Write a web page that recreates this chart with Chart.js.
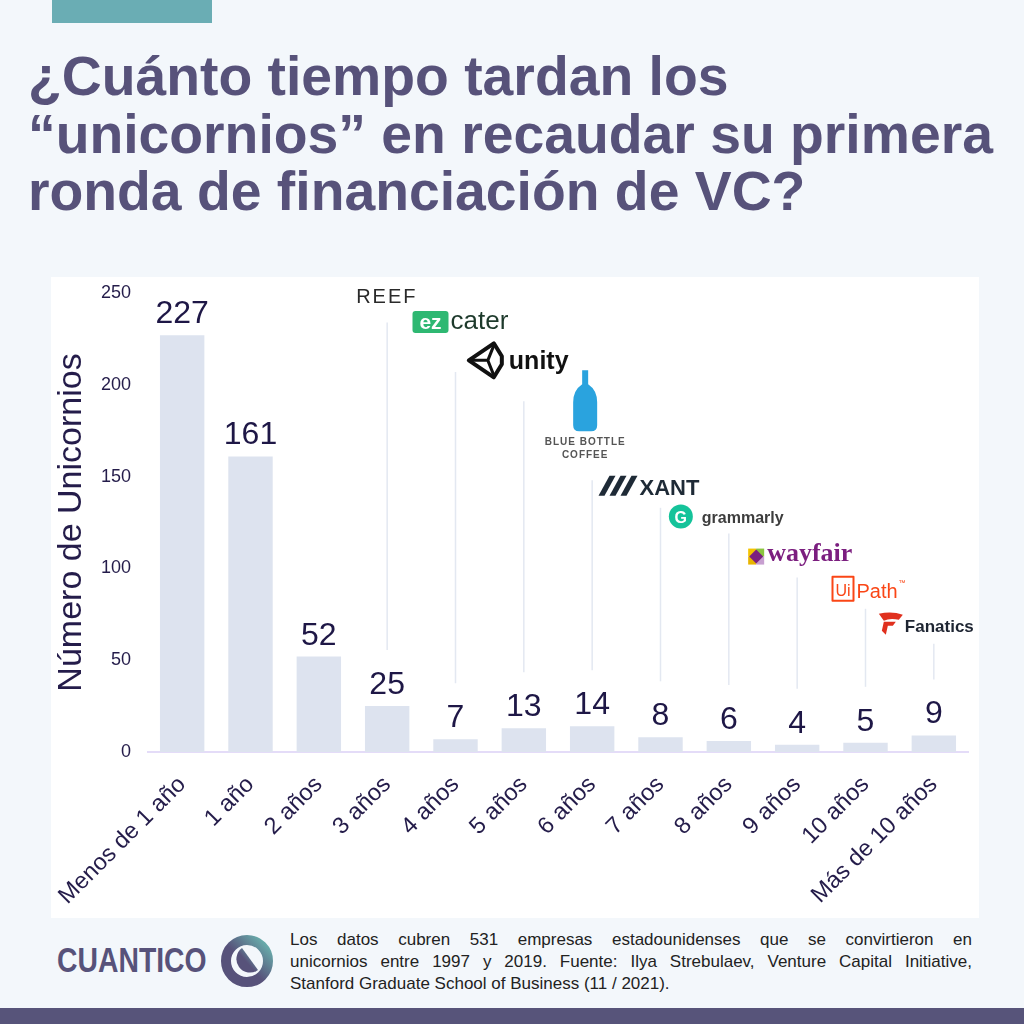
<!DOCTYPE html>
<html lang="es">
<head>
<meta charset="utf-8">
<script src="https://cdn.jsdelivr.net/npm/chart.js@4.4.1/dist/chart.umd.min.js"></script>
<style>
  html, body { margin: 0; padding: 0; }
  body { width: 1024px; height: 1024px; background: #f3f7fb; position: relative; overflow: hidden; font-family: 'Liberation Sans', Arial, sans-serif; }
  .franja { position: absolute; left: 52px; top: 0; width: 160px; height: 23px; background: #6aadb4; }
  h1 { position: absolute; left: 28px; top: 48px; margin: 0; font-size: 55.3px; line-height: 57.5px; font-weight: bold; color: #57527a; white-space: nowrap; }
  .panel { position: absolute; left: 51px; top: 277px; width: 928px; height: 641px; background: #fff; }
  .marca { position: absolute; left: 57px; top: 940px; font-weight: bold; font-size: 35px; line-height: 40px; color: #57527a; transform: scaleX(0.81); transform-origin: left top; }
  .icono { position: absolute; left: 220px; top: 934px; }
  .nota { position: absolute; left: 290px; top: 929px; width: 682px; font-size: 17px; line-height: 22px; color: #222; }
  .nota div { text-align: justify; text-align-last: justify; }
  .nota div.ultima { text-align: left; text-align-last: left; }
  .barra { position: absolute; left: 0; top: 1008px; width: 1024px; height: 16px; background: #57547a; }
</style>
</head>
<body>
<div class="franja"></div>
<h1>¿Cuánto tiempo tardan los<br>“unicornios” en recaudar su primera<br>ronda de financiación de VC?</h1>
<div class="panel"><canvas id="grafico" width="928" height="641"></canvas></div>
<div class="marca">CUANTICO</div>
<svg class="icono" width="54" height="54" viewBox="0 0 54 54">
  <defs>
    <linearGradient id="g1" x1="0" y1="1" x2="1" y2="0">
      <stop offset="0.45" stop-color="#57527a"/>
      <stop offset="1" stop-color="#6ab8b1"/>
    </linearGradient>
  </defs>
  <circle cx="27" cy="27" r="21" fill="none" stroke="url(#g1)" stroke-width="10"/>
  <path d="M22 14 L38 36 A13 13 0 0 1 22 14 Z" fill="url(#g1)"/>
</svg>
<div class="nota">
  <div>Los datos cubren 531 empresas estadounidenses que se convirtieron en</div>
  <div>unicornios entre 1997 y 2019. Fuente: Ilya Strebulaev, Venture Capital Initiative,</div>
  <div class="ultima">Stanford Graduate School of Business (11 / 2021).</div>
</div>
<div class="barra"></div>

<script>
const categorias = ['Menos de 1 año', '1 año', '2 años', '3 años', '4 años', '5 años', '6 años', '7 años', '8 años', '9 años', '10 años', 'Más de 10 años'];
const unicornios = [227, 161, 52, 25, 7, 13, 14, 8, 6, 4, 5, 9];
const ticksY = [0, 50, 100, 150, 200, 250];
const empresas = ['REEF', 'ezcater', 'unity', 'Blue Bottle Coffee', 'XANT', 'grammarly', 'wayfair', 'UiPath', 'Fanatics'];

// posición de cada logo (categoría y altura en unidades del eje)
const logos = [
    { cat: 3, nivel: 234 }, { cat: 4, nivel: 207 }, { cat: 5, nivel: 191 },
    { cat: 6, nivel: 148 }, { cat: 7, nivel: 133 }, { cat: 8, nivel: 119 },
    { cat: 9, nivel: 95 }, { cat: 10, nivel: 78 }, { cat: 11, nivel: 59 }
];

const oscuro = '#241c4a';
const fuente = "'Liberation Sans', Arial, sans-serif";
Chart.defaults.font.family = fuente;

function texto(ctx, t, x, y, font, color, align) {
    ctx.font = font;
    ctx.fillStyle = color;
    ctx.textAlign = align || 'left';
    ctx.textBaseline = 'alphabetic';
    ctx.fillText(t, x, y);
}

const dibujos = {
    'REEF': (ctx, x, y) => {
        ctx.letterSpacing = '2px';
        texto(ctx, 'REEF', x - 31, y - 19, '20px ' + fuente, '#2a2a2a');
        ctx.letterSpacing = '0px';
    },
    'ezcater': (ctx, x, y) => {
        ctx.fillStyle = '#2eb872';
        ctx.beginPath();
        ctx.roundRect(x - 43, y - 61, 36, 22, 3);
        ctx.fill();
        texto(ctx, 'ez', x - 25, y - 43, 'bold 21px ' + fuente, '#fff', 'center');
        texto(ctx, 'cater', x - 5, y - 43, '26px ' + fuente, '#1e3a2c');
    },
    'unity': (ctx, x, y) => {
        let cx = x - 38, cy = y - 41;
        ctx.strokeStyle = '#111';
        ctx.lineJoin = 'round';
        ctx.lineWidth = 4;
        ctx.beginPath();
        ctx.moveTo(cx - 17, cy);
        ctx.lineTo(cx + 8, cy - 17);
        ctx.lineTo(cx + 16, cy - 4);
        ctx.lineTo(cx + 16, cy + 4);
        ctx.lineTo(cx + 8, cy + 17);
        ctx.closePath();
        ctx.stroke();
        ctx.lineWidth = 3;
        ctx.beginPath();
        ctx.moveTo(cx - 17, cy); ctx.lineTo(cx + 2, cy);
        ctx.moveTo(cx + 2, cy); ctx.lineTo(cx + 8, cy - 15);
        ctx.moveTo(cx + 2, cy); ctx.lineTo(cx + 8, cy + 15);
        ctx.stroke();
        texto(ctx, 'unity', x - 15, y - 32, 'bold 25px ' + fuente, '#111');
    },
    'Blue Bottle Coffee': (ctx, x, y) => {
        let cx = x - 7, top = y - 110;
        ctx.fillStyle = '#2aa3de';
        ctx.beginPath();
        ctx.moveTo(cx - 3, top);
        ctx.lineTo(cx - 3, top + 14);
        ctx.quadraticCurveTo(cx - 12, top + 20, cx - 12, top + 32);
        ctx.lineTo(cx - 12, top + 55);
        ctx.quadraticCurveTo(cx - 12, top + 61, cx - 6, top + 61);
        ctx.lineTo(cx + 6, top + 61);
        ctx.quadraticCurveTo(cx + 12, top + 61, cx + 12, top + 55);
        ctx.lineTo(cx + 12, top + 32);
        ctx.quadraticCurveTo(cx + 12, top + 20, cx + 3, top + 14);
        ctx.lineTo(cx + 3, top);
        ctx.closePath();
        ctx.fill();
        ctx.letterSpacing = '1px';
        texto(ctx, 'BLUE BOTTLE', cx, y - 35, 'bold 10px ' + fuente, '#555', 'center');
        texto(ctx, 'COFFEE', cx, y - 22, 'bold 10px ' + fuente, '#555', 'center');
        ctx.letterSpacing = '0px';
    },
    'XANT': (ctx, x, y) => {
        ctx.fillStyle = '#1e2a36';
        for (let k = 0; k < 3; k++) {
            let bx = x - 62 + k * 11, by = y - 12;
            ctx.beginPath();
            ctx.moveTo(bx, by);
            ctx.lineTo(bx + 11, by - 20);
            ctx.lineTo(bx + 17, by - 20);
            ctx.lineTo(bx + 6, by);
            ctx.closePath();
            ctx.fill();
        }
        texto(ctx, 'XANT', x - 21, y - 13, 'bold 22px ' + fuente, '#1e2a36');
    },
    'grammarly': (ctx, x, y) => {
        ctx.fillStyle = '#15c39a';
        ctx.beginPath();
        ctx.arc(x - 48, y - 17, 12, 0, Math.PI * 2);
        ctx.fill();
        texto(ctx, 'G', x - 48, y - 11, 'bold 16px ' + fuente, '#fff', 'center');
        texto(ctx, 'grammarly', x - 27, y - 11, 'bold 16px ' + fuente, '#3d3d3d');
    },
    'wayfair': (ctx, x, y) => {
        let cx = x - 41, cy = y - 21;
        let piezas = [[-4, -4, '#f3c300'], [4, -4, '#8bc53f'], [-4, 4, '#e8b400'], [4, 4, '#c79fd0']];
        piezas.forEach(p => {
            ctx.fillStyle = p[2];
            ctx.fillRect(cx + p[0] - 4, cy + p[1] - 4, 8, 8);
        });
        ctx.fillStyle = '#7b1e7f';
        ctx.beginPath();
        ctx.moveTo(cx, cy - 7); ctx.lineTo(cx + 7, cy); ctx.lineTo(cx, cy + 7); ctx.lineTo(cx - 7, cy);
        ctx.closePath();
        ctx.fill();
        texto(ctx, 'wayfair', x - 30, y - 17, "bold 26px 'Liberation Serif', serif", '#7b1e7f');
    },
    'UiPath': (ctx, x, y) => {
        ctx.strokeStyle = '#fa4616';
        ctx.lineWidth = 2;
        ctx.strokeRect(x - 33, y - 32, 21, 24);
        texto(ctx, 'Ui', x - 22.5, y - 13, '16px ' + fuente, '#fa4616', 'center');
        texto(ctx, 'Path', x - 9, y - 11, '20px ' + fuente, '#fa4616');
        texto(ctx, '™', x + 33, y - 24, '7px ' + fuente, '#fa4616');
    },
    'Fanatics': (ctx, x, y) => {
        ctx.fillStyle = '#e0301e';
        ctx.beginPath();
        ctx.moveTo(x - 55, y - 30);
        ctx.quadraticCurveTo(x - 42, y - 33, x - 31, y - 29);
        ctx.lineTo(x - 35, y - 24);
        ctx.quadraticCurveTo(x - 44, y - 26, x - 50, y - 23);
        ctx.closePath();
        ctx.fill();
        ctx.beginPath();
        ctx.moveTo(x - 50, y - 22);
        ctx.lineTo(x - 38, y - 22);
        ctx.lineTo(x - 41, y - 18);
        ctx.lineTo(x - 46, y - 18);
        ctx.lineTo(x - 48, y - 9);
        ctx.lineTo(x - 52, y - 13);
        ctx.closePath();
        ctx.fill();
        texto(ctx, 'Fanatics', x - 29, y - 12, 'bold 17px ' + fuente, '#1e2532');
    }
};

const etiquetas = {
    id: 'etiquetas',
    afterDatasetsDraw(chart) {
        let ctx = chart.ctx;
        let meta = chart.getDatasetMeta(0);
        ctx.save();
        meta.data.forEach((bar, i) => {
            texto(ctx, String(unicornios[i]), bar.x, bar.y - 12, '32px ' + fuente, '#1e1746', 'center');
        });
        ctx.restore();
    }
};

const marcas = {
    id: 'marcas',
    afterDraw(chart) {
        let ctx = chart.ctx;
        let xs = chart.scales.x, ys = chart.scales.y;
        ctx.save();
        logos.forEach((l, i) => {
            let x = xs.getPixelForValue(l.cat);
            let arriba = ys.getPixelForValue(l.nivel);
            let abajo = ys.getPixelForValue(unicornios[l.cat]) - 56;
            ctx.strokeStyle = '#e3e8f1';
            ctx.lineWidth = 1.5;
            ctx.beginPath();
            ctx.moveTo(x, arriba);
            ctx.lineTo(x, abajo);
            ctx.stroke();
            dibujos[empresas[i]](ctx, x, arriba);
        });
        ctx.restore();
    }
};

function sinRelleno(s) {
    s.paddingTop = 0;
    s.paddingBottom = 0;
    s.paddingLeft = 0;
    s.paddingRight = 0;
}

new Chart(document.getElementById('grafico'), {
    type: 'bar',
    data: {
        labels: categorias,
        datasets: [{
            data: unicornios,
            backgroundColor: '#dde3ef',
            categoryPercentage: 1,
            barPercentage: 0.65
        }]
    },
    options: {
        responsive: false,
        animation: false,
        layout: { padding: { top: 16, right: 11, left: 0, bottom: 0 } },
        plugins: {
            legend: { display: false },
            tooltip: { enabled: false }
        },
        scales: {
            x: {
                grid: { display: false, drawTicks: false },
                border: { color: '#e4dcf8', width: 2 },
                ticks: { color: oscuro, font: { size: 23.5 }, maxRotation: 45, minRotation: 45, padding: 19 },
                afterFit: s => { s.height = 166; sinRelleno(s) }
            },
            y: {
                min: 0,
                max: 250,
                afterBuildTicks: s => { s.ticks = ticksY.map(v => ({ value: v })) },
                ticks: { color: oscuro, font: { size: 18 }, padding: 17 },
                grid: { display: false, drawTicks: false },
                border: { display: false },
                title: { display: true, text: 'Número de Unicornios', color: oscuro, font: { size: 34 }, padding: { top: 0, bottom: 0 } },
                afterFit: s => { s.width = 97; sinRelleno(s) }
            }
        }
    },
    plugins: [etiquetas, marcas]
});
</script>
</body>
</html>
